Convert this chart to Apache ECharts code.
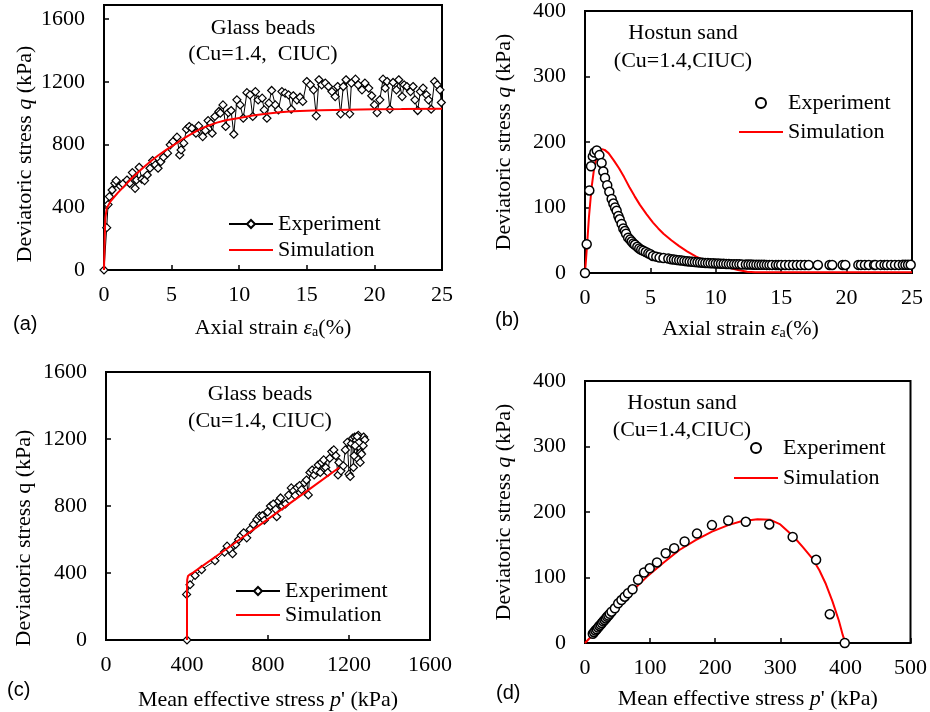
<!DOCTYPE html>
<html>
<head>
<meta charset="utf-8">
<script src="https://cdn.jsdelivr.net/npm/echarts@6/dist/echarts.min.js"></script>
<style>html,body{margin:0;padding:0;background:#fff}#c{width:930px;height:712px}</style>
</head>
<body>
<div id="c"></div>
<script>
// ---------- DATA ----------
// (a) Glass beads: axial strain (%) vs q (kPa)
const expA = [[0,0],[0.2,270],[0.3,417],[0.4,468],[0.6,510],[0.8,553],[0.9,570],[1.2,536],[1.4,549],[1.7,574],[1.9,553],[2.1,621],[2.3,521],[2.4,574],[2.6,655],[2.8,579],[3.0,570],[3.2,606],[3.4,649],[3.6,698],[3.8,670],[4.0,649],[4.2,691],[4.4,719],[4.7,745],[4.9,798],[5.1,819],[5.4,847],[5.6,734],[5.7,766],[5.9,809],[6.1,898],[6.3,915],[6.5,904],[6.8,872],[7.0,919],[7.3,851],[7.5,889],[7.7,953],[7.9,936],[8.0,872],[8.2,979],[8.5,1011],[8.6,1000],[8.8,1053],[9.0,915],[9.2,1004],[9.4,1017],[9.6,866],[9.83,1085],[10.07,1053],[10.3,968],[10.57,1131],[10.8,1117],[11.0,979],[11.2,1138],[11.4,1085],[11.7,1096],[11.85,1021],[12.05,968],[12.2,1064],[12.4,1145],[12.67,1053],[12.9,1021],[13.16,1138],[13.4,1128],[13.65,1117],[13.85,1025],[14.0,1111],[14.27,1085],[14.5,1102],[14.7,1075],[15.0,1202],[15.26,1181],[15.5,1149],[15.7,983],[15.9,1213],[16.1,1181],[16.37,1192],[16.6,1170],[16.86,1138],[17.1,1106],[17.28,1170],[17.5,996],[17.7,1170],[17.9,1213],[18.17,996],[18.3,1192],[18.6,1217],[18.8,1181],[19.08,1149],[19.3,1192],[19.58,1160],[19.8,1111],[20.0,1053],[20.2,1004],[20.4,1085],[20.64,1217],[20.8,1160],[20.94,1202],[21.14,1025],[21.38,1196],[21.63,1149],[21.8,1213],[22.05,1106],[22.2,1181],[22.4,1170],[22.67,1138],[22.86,1170],[23.0,1085],[23.2,1017],[23.4,1138],[23.6,1160],[23.85,1117],[24.0,1085],[24.2,1025],[24.45,1202],[24.65,1181],[24.85,1149],[24.95,1068]];
const simA = [[0,0],[0.05,200],[0.1,330],[0.2,394],[0.5,440],[1.0,490],[1.5,535],[2.0,580],[2.5,622],[3.0,660],[3.5,697],[4.0,730],[4.6,766],[5.2,800],[5.9,840],[6.5,870],[7.1,898],[7.7,920],[8.35,940],[9.0,955],[10,970],[11,985],[12,997],[13,1006],[14,1012],[16,1018],[18,1022],[20,1025],[22,1026],[25,1028]];

// (b) Hostun sand: axial strain (%) vs q (kPa)
const expB = [[0,0],[0.13,44],[0.33,126],[0.46,163],[0.6,178],[0.72,184],[0.9,187],[1.1,180],[1.27,168],[1.4,155],[1.53,145],[1.7,134],[1.86,124],[2.04,113],[2.17,106],[2.3,100],[2.42,95],[2.55,87],[2.65,82],[2.8,75],[2.93,68],[3.05,64],[3.14,60],[3.3,54],[3.45,51],[3.57,48],[3.7,45],[3.82,43],[4.0,40],[4.15,37.5],[4.3,35.5],[4.46,34],[4.65,32],[4.84,30],[5.0,28.5],[5.2,26],[5.45,25],[5.7,23.5],[6.0,22.8],[6.37,22],[6.6,21],[6.8,20.5],[7.0,20],[7.2,19.5],[7.4,19],[7.6,18.5],[7.8,18],[8.0,17.5],[8.2,17],[8.4,16.7],[8.6,16.3],[8.8,16],[9.0,15.7],[9.2,15.4],[9.4,15.2],[9.6,15],[9.8,14.8],[10.0,14.6],[10.2,14.4],[10.4,14.2],[10.6,14],[10.8,13.8],[11.0,13.6],[11.2,13.5],[11.4,13.4],[11.6,13.3],[11.8,13.2],[12.0,13.1],[12.3,13],[12.5,12.9],[12.7,12.8],[12.9,12.7],[13.1,12.6],[13.3,12.6],[13.5,12.5],[13.7,12.5],[13.9,12.4],[14.1,12.4],[14.3,12.4],[14.6,12.3],[14.8,12.3],[15.0,12.3],[15.3,12.3],[15.6,12.2],[15.9,12.2],[16.2,12.2],[16.5,12.2],[16.8,12.2],[17.1,12.2],[17.8,12.3],[18.7,12.3],[18.9,12.3],[19.7,12.3],[19.9,12.3],[20.9,12.4],[21.1,12.4],[21.4,12.4],[21.7,12.4],[22.1,12.4],[22.2,12.4],[22.6,12.4],[22.9,12.4],[23.1,12.4],[23.4,12.4],[23.7,12.4],[24.0,12.4],[24.3,12.5],[24.5,12.5],[24.7,12.5],[24.9,12.5]];
const simB = [[0,0],[0.15,40],[0.3,85],[0.5,130],[0.7,160],[0.9,178],[1.1,186],[1.3,189],[1.5,188],[1.8,183],[2.2,172],[2.6,160],[3.0,146],[3.4,131],[3.8,117],[4.2,104],[4.7,90],[5.2,77],[5.6,68],[6.0,60],[6.6,50],[7.2,41],[7.8,33],[8.5,25],[9.2,19],[9.8,15],[10.5,11],[11.1,7.5],[11.7,4.5],[12.4,2],[13,1],[25,1]];

// (c) Glass beads: p' (kPa) vs q (kPa)
const expC = [[400,0],[398,272],[415,330],[440,385],[472,420],[538,473],[585,525],[598,560],[612,540],[625,515],[640,570],[655,600],[668,625],[680,640],[695,610],[712,660],[728,690],[745,720],[758,740],[772,742],[782,715],[798,765],[812,800],[826,812],[838,780],[843,736],[852,830],[862,848],[870,800],[886,812],[902,865],[915,908],[926,890],[934,862],[944,910],[956,922],[966,898],[980,940],[990,955],[999,866],[1007,1000],[1018,1015],[1028,985],[1038,1012],[1048,1045],[1058,1000],[1065,1060],[1075,1075],[1085,1030],[1095,1000],[1105,1085],[1115,1125],[1125,1135],[1135,1100],[1146,985],[1150,1060],[1160,1010],[1172,1040],[1182,1135],[1192,1180],[1200,990],[1206,976],[1212,1172],[1218,1205],[1222,1030],[1228,1212],[1236,1192],[1240,1085],[1246,1222],[1252,1150],[1257,1120],[1262,1202],[1268,1185],[1272,1212],[1278,1195],[1270,1160],[1262,1110],[1255,1060],[1248,1180],[1240,1215],[1230,1160],[1225,1100]];
const simC = [[400,0],[400,300],[401,360],[405,382],[415,392],[430,402],[600,548],[800,722],[1000,896],[1152,1030]];

// (d) Hostun sand: p' (kPa) vs q (kPa)
const expD = [[12,14],[14,16.5],[16,19],[18,21],[20,23.5],[22,26],[24,28],[26,30.5],[28,33],[30,35],[32,37.5],[34,40],[36,42],[38,44.5],[40.8,47.8],[45.9,53],[51,60.5],[56,65.6],[61,70.7],[66,75.8],[73,82],[81.5,96.4],[90.7,107.6],[99.4,114],[110.6,123],[124,137],[137,144.7],[153,155],[172,167],[195,180],[220,187],[247,185],[283,181],[319,162],[355,127],[376,44],[399,0]];
const simD = [[0,0],[20,21],[45,52],[70,77],[95,101],[120,122],[145,142],[170,157],[195,170],[220,180],[240,186],[265,189],[285,188],[300,181],[320,163],[335,146],[350,128],[360,111],[370,90],[380,64],[390,34],[396,12],[400,0]];

// tick settings
const xTicksStrain = {min:0, max:25, interval:5};
const xTicksP_c = {min:0, max:1600, interval:400};
const xTicksP_d = {min:0, max:500, interval:100};
const yTicksGlassA = {min:0, max:1690, interval:400};
const yTicksGlassC = {min:0, max:1600, interval:400};
const yTicksSand = {min:0, max:400, interval:100};

// ---------- CHART ----------
const SERIF = 'Liberation Serif';
const SANS = 'Liberation Sans';
const FS = 22;
const YFS = 22;
const richX = {
  i: {fontFamily: SERIF, fontSize: FS, fontStyle: 'italic', color: '#000'},
  s: {fontFamily: SERIF, fontSize: 14, color: '#000', verticalAlign: 'bottom', lineHeight: 14}
};
const richY = {
  i: {fontFamily: SERIF, fontSize: YFS, fontStyle: 'italic', color: '#000'}
};
const plain = function (v) { return String(v); };

function xAx(gi, t, name, gap, pad) {
  return Object.assign({
    type: 'value', gridIndex: gi, name: name, nameLocation: 'middle', nameGap: gap,
    nameTextStyle: {fontFamily: SERIF, fontSize: FS, color: '#000', rich: richX, padding: pad || 0},
    axisLine: {show: true, onZero: false, lineStyle: {color: '#000', width: 2}},
    axisTick: {show: true, inside: true, length: 5, lineStyle: {color: '#000', width: 1.5}},
    axisLabel: {color: '#000', fontFamily: SERIF, fontSize: FS, margin: 14, formatter: plain},
    splitLine: {show: false}
  }, t);
}
function yAx(gi, t, name, gap, pad, hideMax) {
  return Object.assign({
    type: 'value', gridIndex: gi, name: name, nameLocation: 'middle', nameGap: gap,
    nameTextStyle: {fontFamily: SERIF, fontSize: YFS, color: '#000', rich: richY, padding: pad || 0},
    axisLine: {show: true, onZero: false, lineStyle: {color: '#000', width: 2}},
    axisTick: {show: true, inside: true, length: 5, lineStyle: {color: '#000', width: 1.5}},
    axisLabel: {color: '#000', fontFamily: SERIF, fontSize: FS, margin: 19, formatter: plain, showMaxLabel: hideMax ? false : null},
    splitLine: {show: false}
  }, t);
}
function gridBox(l, t, w, h) {
  return {left: l, top: t, width: w, height: h, show: true, borderColor: '#000', borderWidth: 2, backgroundColor: 'transparent'};
}
function legendAt(suffix, left, top, gap) {
  return {
    data: [
      {name: 'Experiment ' + suffix},
      {name: 'Simulation ' + suffix, itemStyle: {color: 'transparent', borderColor: 'transparent', borderWidth: 0, opacity: 0}}
    ],
    orient: 'vertical', left: left, top: top, padding: 0,
    itemWidth: 44, itemHeight: 10, itemGap: gap, selectedMode: false,
    formatter: function (n) { return n.replace(/ [abcd]$/, ''); },
    textStyle: {fontFamily: SERIF, fontSize: FS, color: '#000', lineHeight: 22}
  };
}
function txt(text, x, y) {
  return {type: 'text', x: x, y: y, style: {text: text, font: FS + 'px "' + SERIF + '"', fill: '#000',
    align: 'center', textAlign: 'center', verticalAlign: 'middle', textVerticalAlign: 'middle'}};
}
function lab(text, x, y) {
  return {type: 'text', x: x, y: y, style: {text: text, font: '20px "' + SANS + '"', fill: '#000',
    align: 'left', textAlign: 'left', verticalAlign: 'middle', textVerticalAlign: 'middle'}};
}

const expLine = (name, xi, data) => ({
  name: name, type: 'line', xAxisIndex: xi, yAxisIndex: xi, data: data,
  symbol: 'diamond', symbolSize: 8, showAllSymbol: true, animation: false,
  lineStyle: {color: '#000', width: 1}, itemStyle: {color: '#fff', borderColor: '#000', borderWidth: 1.2}, z: 2
});
const simLine = (name, xi, data, z) => ({
  name: name, type: 'line', xAxisIndex: xi, yAxisIndex: xi, data: data, symbol: 'none', showSymbol: false,
  smooth: false, animation: false, lineStyle: {color: '#ff0000', width: 2}, itemStyle: {color: '#ff0000'}, z: z
});
const expScatter = (name, xi, data) => ({
  name: name, type: 'scatter', xAxisIndex: xi, yAxisIndex: xi, data: data, symbol: 'circle', symbolSize: 9,
  animation: false, itemStyle: {color: '#fff', borderColor: '#000', borderWidth: 1.5, opacity: 1}, z: 4
});

const strainName = 'Axial strain {i|ε}{s|a}(%)';
const pName = "Mean effective stress {i|p}' (kPa)";

const option = {
  animation: false,
  backgroundColor: '#fff',
  grid: [gridBox(104, 5, 338, 265), gridBox(585, 11, 327, 262), gridBox(106, 372, 324, 268), gridBox(585, 381, 327, 262)],
  xAxis: [
    xAx(0, xTicksStrain, strainName, 47),
    xAx(1, xTicksStrain, strainName, 45, [0, 16, 0, 0]),
    xAx(2, xTicksP_c, pName, 49),
    xAx(3, xTicksP_d, pName, 45)
  ],
  yAxis: [
    yAx(0, yTicksGlassA, 'Deviatoric stress {i|q} (kPa)', 68, [0, 33, 0, 0], true),
    yAx(1, yTicksSand, 'Deviatoric stress {i|q} (kPa)', 70),
    yAx(2, yTicksGlassC, 'Deviatoric stress q (kPa)', 71, [0, 64, 0, 0]),
    yAx(3, yTicksSand, 'Deviatoric stress {i|q} (kPa)', 70)
  ],
  legend: [legendAt('a', 228, 213, 4), legendAt('b', 738, 92, 7), legendAt('c', 235, 580, 2), legendAt('d', 733, 437, 8)],
  series: [
    expLine('Experiment a', 0, expA), simLine('Simulation a', 0, simA, 3),
    simLine('Simulation b', 1, simB, 2), expScatter('Experiment b', 1, expB),
    expLine('Experiment c', 2, expC), simLine('Simulation c', 2, simC, 3),
    simLine('Simulation d', 3, simD, 2), expScatter('Experiment d', 3, expD)
  ],
  graphic: [
    txt('Glass beads', 263, 28), txt('(Cu=1.4,  CIUC)', 263, 54),
    txt('Hostun sand', 683, 33), txt('(Cu=1.4,CIUC)', 683, 61),
    txt('Glass beads', 260, 394), txt('(Cu=1.4, CIUC)', 260, 421),
    txt('Hostun sand', 682, 403), txt('(Cu=1.4,CIUC)', 682, 430),
    lab('(a)', 13, 324), lab('(b)', 495, 320), lab('(c)', 7, 690), lab('(d)', 496, 693)
  ]
};
const chart = echarts.init(document.getElementById('c'), null, {renderer: 'canvas'});
chart.setOption(option);
</script>
</body>
</html>
